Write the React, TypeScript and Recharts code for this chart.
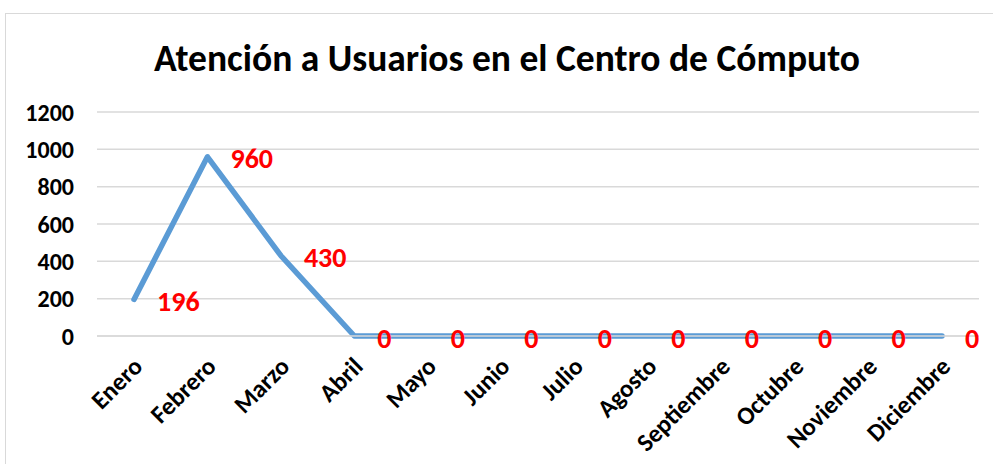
import React from "react";
import { LineChart, Line, XAxis, YAxis, CartesianGrid, LabelList } from "recharts";

const months = ["Enero", "Febrero", "Marzo", "Abril", "Mayo", "Junio", "Julio", "Agosto", "Septiembre", "Octubre", "Noviembre", "Diciembre"];
const usuarios = [196, 960, 430, 0, 0, 0, 0, 0, 0, 0, 0, 0];
const yTicks = [0, 200, 400, 600, 800, 1000, 1200];
const title = "Atención a Usuarios en el Centro de Cómputo";

const data = months.map((m, i) => ({ mes: m, valor: usuarios[i] }));

const FONT = "Carlito, Calibri, Lato, sans-serif";

const YTick = (props: any) => {
  const { y, payload } = props;
  return (
    <text x={74} y={y} textAnchor="end" dominantBaseline="central" fontFamily={FONT} fontWeight="bold" fontSize={24} fill="#000">
      {payload.value}
    </text>
  );
};

const XTick = (props: any) => {
  const { x, y, payload } = props;
  const tx = x + 10;
  const ty = y + 24;
  return (
    <text x={tx} y={ty} transform={`rotate(-45 ${tx} ${ty})`} textAnchor="end" fontFamily={FONT} fontWeight="bold" fontSize={25} fill="#000">
      {payload.value}
    </text>
  );
};

const DataLabel = (props: any) => {
  const { x, y, value } = props;
  return (
    <text x={x + 23} y={y + 2} dominantBaseline="central" fontFamily={FONT} fontWeight="bold" fontSize={28} fill="#FF0000">
      {value}
    </text>
  );
};

export default function App() {
  return (
    <div style={{ position: "absolute", left: 0, top: 0, width: 993, height: 464, background: "#fff", overflow: "hidden" }}>
      <div style={{ position: "absolute", left: 5, top: 13, width: 1100, height: 600, border: "1.5px solid #D9D9D9", boxSizing: "border-box" }} />
      <div style={{ position: "absolute", left: 0, top: 35, width: 1014, textAlign: "center", fontFamily: FONT, fontWeight: "bold", fontSize: 37.5, color: "#000", lineHeight: "46px", whiteSpace: "nowrap" }}>
        {title}
      </div>
      <div style={{ position: "absolute", left: 0, top: 0 }}>
        <LineChart width={993} height={464} data={data} margin={{ top: 112, right: 14, bottom: 0, left: 0 }}>
          <CartesianGrid horizontal={true} vertical={false} stroke="#D9D9D9" strokeWidth={1.5} />
          <XAxis dataKey="mes" padding={{ left: 37, right: 37 }} axisLine={{ stroke: "#D9D9D9", strokeWidth: 1.5 }} tickLine={false} interval={0} height={128} tick={<XTick />} />
          <YAxis domain={[0, 1200]} ticks={yTicks} width={97} axisLine={false} tickLine={false} tick={<YTick />} />
          <Line type="linear" dataKey="valor" stroke="#5B9BD5" strokeWidth={5.5} strokeLinecap="round" strokeLinejoin="round" dot={false} isAnimationActive={false}>
            <LabelList dataKey="valor" content={<DataLabel />} />
          </Line>
        </LineChart>
      </div>
    </div>
  );
}
